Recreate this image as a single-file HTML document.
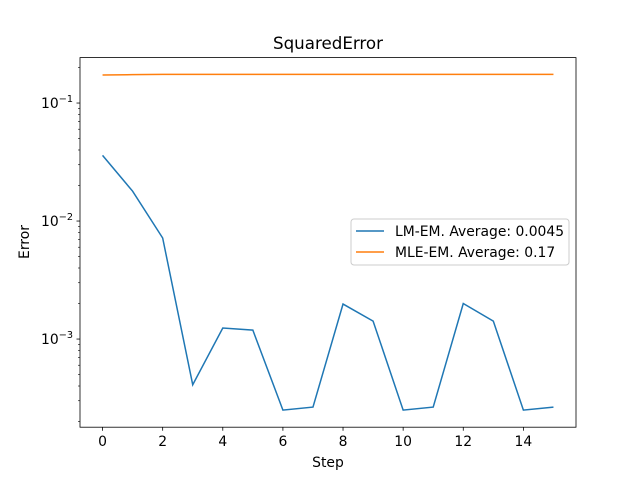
<!DOCTYPE html>
<html><head><meta charset="utf-8"><style>
body{margin:0;background:#fff;}
svg{display:block;font-family:"DejaVu Sans","Liberation Sans",sans-serif;}
</style></head><body>
<svg id="chart" width="640" height="480" viewBox="0 0 640 480">
<rect width="640" height="480" fill="#fff"/>
<text x="328" y="49" text-anchor="middle" font-size="16.7">SquaredError</text>
<g id="axes"></g>
<g id="series"></g>
<rect x="80" y="57.6" width="496" height="369.6" fill="none" stroke="#000" stroke-width="0.8"/>
<text x="328" y="467" text-anchor="middle" font-size="13.9">Step</text>
<text x="29" y="242" text-anchor="middle" font-size="13.9" transform="rotate(-90 29 242)">Error</text>
<g>
<rect x="351" y="219" width="218" height="46" rx="3" fill="#fff" fill-opacity="0.8" stroke="#ccc"/>
<line x1="356" y1="231" x2="384" y2="231" stroke="#1f77b4" stroke-width="1.5"/>
<text x="395" y="236" font-size="13.9">LM-EM. Average: 0.0045</text>
<line x1="356" y1="252" x2="384" y2="252" stroke="#ff7f0e" stroke-width="1.5"/>
<text x="395" y="257" font-size="13.9">MLE-EM. Average: 0.17</text>
</g>
</svg>
<script>
const steps=[0,1,2,3,4,5,6,7,8,9,10,11,12,13,14,15];
const lmEm=[0.036,0.0179,0.00718,0.00041,0.00124,0.00119,0.00025,0.000265,0.00198,0.00142,0.00025,0.000265,0.002,0.00142,0.00025,0.000265];
const mleEm=[0.173,0.174,0.175,0.175,0.175,0.175,0.175,0.175,0.175,0.175,0.175,0.175,0.175,0.175,0.175,0.175];
const xTicks=[0,2,4,6,8,10,12,14];
const yTicks=[-3,-2,-1];
const ns="http://www.w3.org/2000/svg";
const X0=80,X1=576,Y0=57.6,Y1=427.2,xmin=-0.75,xmax=15.75,lmin=-3.747,lmax=-0.615;
function sx(v){return X0+(v-xmin)/(xmax-xmin)*(X1-X0);}
function sy(v){return Y1-(Math.log10(v)-lmin)/(lmax-lmin)*(Y1-Y0);}
function mk(t,a,p){const e=document.createElementNS(ns,t);for(const k in a)e.setAttribute(k,a[k]);p.appendChild(e);return e;}
const ax=document.getElementById('axes');
xTicks.forEach(t=>{const x=sx(t);
 const l=mk('line',{x1:x,x2:x,y1:Y1,y2:Y1+3.5,stroke:'#000','stroke-width':0.8},ax);
 
 
 const tx=mk('text',{x:x,y:Y1+19,'text-anchor':'middle','font-size':13.9},ax);tx.textContent=t;
 
 });
yTicks.forEach(p=>{const y=sy(Math.pow(10,p));
 const l=mk('line',{x1:X0-3.5,x2:X0,y1:y,y2:y,stroke:'#000','stroke-width':0.8},ax);
 
 
 const tx=mk('text',{x:X0-7,y:y+5,'text-anchor':'end','font-size':13.9},ax);
 
 
 tx.appendChild(document.createTextNode('10'));
 const s=mk('tspan',{dy:-6,'font-size':9.7},tx);s.textContent='\u2212'+(-p);
 for(let k=2;k<10;k++){const v=k*Math.pow(10,p);const yy=sy(v);if(yy<Y0||yy>Y1)continue;
  const m=mk('line',{x1:X0-2,x2:X0,y1:yy,y2:yy,stroke:'#000','stroke-width':0.6},ax);
  
  }
});
for(let k=2;k<10;k++){const v=k*1e-4;const yy=sy(v);if(yy<Y0||yy>Y1)continue;
 const m=mk('line',{x1:X0-2,x2:X0,y1:yy,y2:yy,stroke:'#000','stroke-width':0.6},ax);
 
 }
const sg=document.getElementById('series');
function line(vals,color,name){const pts=vals.map((v,i)=>sx(steps[i])+','+sy(v)).join(' ');
 const pl=mk('polyline',{points:pts,fill:'none',stroke:color,'stroke-width':1.5},sg);
 
 }
line(lmEm,'#1f77b4','line-lm-em');
line(mleEm,'#ff7f0e','line-mle-em');
</script>
</body></html>
